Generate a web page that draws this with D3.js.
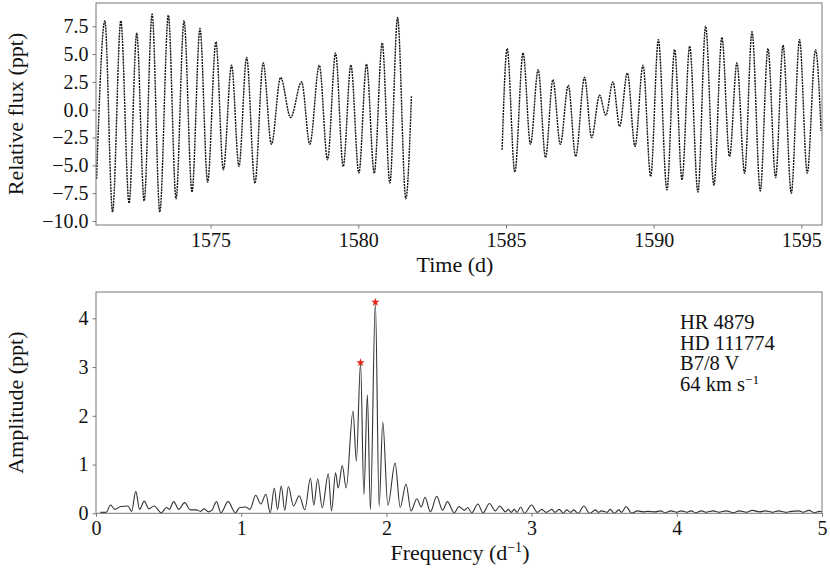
<!DOCTYPE html>
<html>
<head>
<meta charset="utf-8">
<script src="https://cdn.jsdelivr.net/npm/d3@7"></script>
<style>
body { margin: 0; background: #fff; }
text { font-family: "Liberation Serif", "DejaVu Serif", serif; fill: #111; }
</style>
</head>
<body>
<div id="chart"></div>
<script>
// light curve extrema (BJD - 2457000, ppt)
var lcTime1 = [1571.14, 1571.42, 1571.68, 1571.96, 1572.24, 1572.50, 1572.75, 1573.02, 1573.28, 1573.57,
               1573.83, 1574.10, 1574.37, 1574.64, 1574.90, 1575.18, 1575.43, 1575.71, 1575.96, 1576.22,
               1576.50, 1576.78, 1577.06, 1577.37, 1577.71, 1578.08, 1578.36, 1578.68, 1578.96, 1579.23,
               1579.49, 1579.75, 1580.02, 1580.28, 1580.54, 1580.81, 1581.07, 1581.33, 1581.61, 1581.80];
var lcFlux1 = [-6.2, 8.0, -9.2, 8.0, -8.4, 6.9, -8.2, 8.6, -9.2, 8.5,
               -8.0, 8.0, -7.4, 7.3, -6.5, 6.1, -5.4, 4.0, -5.1, 4.7,
               -6.6, 4.2, -3.1, 2.9, -0.7, 2.5, -3.1, 4.0, -4.5, 5.1,
               -5.1, 4.0, -5.7, 4.1, -5.7, 6.0, -6.6, 8.3, -8.0, 1.2];
var lcTime2 = [1584.87, 1585.04, 1585.30, 1585.58, 1585.83, 1586.09, 1586.34, 1586.59, 1586.84, 1587.11,
               1587.36, 1587.66, 1587.90, 1588.17, 1588.38, 1588.62, 1588.85, 1589.11, 1589.37, 1589.64,
               1589.90, 1590.16, 1590.45, 1590.71, 1590.96, 1591.22, 1591.50, 1591.76, 1592.04, 1592.31,
               1592.57, 1592.82, 1593.08, 1593.33, 1593.61, 1593.87, 1594.13, 1594.38, 1594.66, 1594.94,
               1595.20, 1595.48, 1595.67];
var lcFlux2 = [-3.6, 5.5, -5.6, 5.1, -3.1, 3.6, -4.3, 2.7, -3.1, 2.2,
               -4.2, 2.9, -2.5, 1.3, -0.5, 2.5, -1.5, 3.3, -3.3, 4.0,
               -6.0, 6.3, -7.2, 5.4, -6.3, 5.7, -7.4, 7.5, -6.8, 6.5,
               -4.2, 4.2, -5.7, 7.0, -7.3, 5.5, -6.1, 5.8, -7.5, 6.3,
               -5.7, 5.4, -1.9];

// amplitude spectrum, peaks and dips
var pgFreq = [0.03, 0.07, 0.10, 0.13, 0.17, 0.22, 0.245, 0.274, 0.30, 0.332, 0.365, 0.40, 0.45, 0.485, 0.505,
              0.535, 0.57, 0.61, 0.65, 0.69, 0.72, 0.745, 0.775, 0.80, 0.83, 0.86, 0.91, 0.96, 0.99, 1.03,
              1.06, 1.10, 1.135, 1.17, 1.20, 1.228, 1.25, 1.276, 1.30, 1.325, 1.36, 1.40, 1.438, 1.477, 1.50,
              1.527, 1.558, 1.60, 1.622, 1.65, 1.668, 1.696, 1.723, 1.77, 1.793, 1.822, 1.845, 1.869, 1.89, 1.924,
              1.95, 1.975, 2.01, 2.06, 2.095, 2.135, 2.17, 2.21, 2.24, 2.266, 2.303, 2.347, 2.387, 2.42, 2.467,
              2.50, 2.536, 2.56, 2.587, 2.63, 2.665, 2.71, 2.75, 2.78, 2.82, 2.84, 2.86, 2.88, 2.90, 2.925,
              2.95, 3.00, 3.04, 3.07, 3.10, 3.14, 3.16, 3.19, 3.22, 3.24, 3.27, 3.29, 3.32, 3.36, 3.40,
              3.44, 3.46, 3.48, 3.52, 3.54, 3.57, 3.60, 3.62, 3.65, 3.69, 3.73, 3.77, 3.80, 3.85, 3.89,
              3.92, 3.96, 4.00, 4.03, 4.07, 4.10, 4.13, 4.17, 4.20, 4.25, 4.29, 4.34, 4.39, 4.43, 4.48,
              4.52, 4.57, 4.61, 4.66, 4.70, 4.75, 4.79, 4.84, 4.87, 4.91, 4.95, 4.98, 5.00];
var pgAmp = [0.02, 0.02, 0.17, 0.08, 0.14, 0.15, 0.04, 0.45, 0.08, 0.25, 0.09, 0.15, 0.01, 0.12, 0.08,
             0.24, 0.08, 0.22, 0.07, 0.07, 0.04, 0.09, 0.03, 0.07, 0.24, 0.01, 0.24, 0.01, 0.12, 0.13,
             0.08, 0.37, 0.19, 0.39, 0.01, 0.52, 0.08, 0.56, 0.06, 0.55, 0.15, 0.36, 0.07, 0.72, 0.17,
             0.71, 0.11, 0.81, 0.05, 0.83, 0.52, 0.98, 0.52, 2.10, 1.07, 3.09, 0.38, 2.43, 0.08, 4.33,
             0.14, 1.87, 0.16, 1.03, 0.12, 0.60, 0.05, 0.30, 0.13, 0.33, 0.03, 0.35, 0.06, 0.24, 0.01,
             0.14, 0.06, 0.12, 0.01, 0.19, 0.01, 0.20, 0.05, 0.15, 0.03, 0.08, 0.02, 0.08, 0.02, 0.13,
             0.00, 0.17, 0.02, 0.08, 0.02, 0.08, 0.02, 0.08, 0.00, 0.07, 0.02, 0.07, 0.00, 0.15, 0.00,
             0.07, 0.02, 0.05, 0.02, 0.08, 0.00, 0.07, 0.02, 0.14, 0.00, 0.05, 0.03, 0.04, 0.03, 0.05,
             0.01, 0.05, 0.02, 0.05, 0.02, 0.05, 0.01, 0.05, 0.02, 0.05, 0.02, 0.05, 0.01, 0.05, 0.02,
             0.06, 0.03, 0.05, 0.02, 0.05, 0.02, 0.04, 0.05, 0.02, 0.06, 0.01, 0.04, 0.03];

// marked frequencies
var peakFreq = [1.822, 1.924];
var peakAmp = [3.09, 4.33];

var timeTicks = [1575, 1580, 1585, 1590, 1595];
var fluxTicks = [-10, -7.5, -5, -2.5, 0, 2.5, 5, 7.5];
var freqTicks = [0, 1, 2, 3, 4, 5];
var ampTicks = [0, 1, 2, 3, 4];
var starInfo = ["HR 4879", "HD 111774", "B7/8 V", "64 km s"];

var W = 830, H = 570;
var left = 96, right = 822;
var top1 = 3, bot1 = 225;
var top2 = 292, bot2 = 513.3;
var fs = 20, lfs = 22;

var svg = d3.select("#chart").append("svg")
    .attr("width", W)
    .attr("height", H);

function fmtMinus(s){ return s.replace("-", "\u2212"); }

// ---------- top panel: light curve ----------
var xT = d3.scaleLinear().domain([1571.12, 1595.70]).range([left, right]);
var yF = d3.scaleLinear().domain([-10.36, 9.59]).range([bot1, top1]);

var seg1 = lcTime1.map(function(t, i){ return [t, lcFlux1[i]]; });
var seg2 = lcTime2.map(function(t, i){ return [t, lcFlux2[i]]; });

var lcLine = d3.line()
    .x(function(d){ return xT(d[0]); })
    .y(function(d){ return yF(d[1]); })
    .curve(d3.curveMonotoneX);

svg.selectAll(".lc")
    .data([seg1, seg2])
    .enter()
    .append("path")
    .attr("class", "lc")
    .attr("d", lcLine)
    .attr("fill", "none")
    .attr("stroke", "#111")
    .attr("stroke-width", 1.4)
    .attr("stroke-dasharray", "2,0.9");

var gx1 = svg.append("g")
    .attr("transform", "translate(0," + bot1 + ")")
    .call(d3.axisBottom(xT).tickValues(timeTicks).tickSize(3.5).tickPadding(4).tickFormat(d3.format("d")));
var gy1 = svg.append("g")
    .attr("transform", "translate(" + left + ",0)")
    .call(d3.axisLeft(yF).tickValues(fluxTicks).tickSize(3.5).tickPadding(4)
          .tickFormat(function(d){ return fmtMinus(d3.format(".1f")(d)); }));

svg.append("rect")
    .attr("x", left).attr("y", top1)
    .attr("width", right - left).attr("height", bot1 - top1)
    .attr("fill", "none").attr("stroke", "#777").attr("stroke-width", 1);

svg.append("text")
    .attr("x", (left + right) / 2 - 4).attr("y", 272)
    .attr("text-anchor", "middle")
    .style("font-size", lfs + "px")
    .text("Time (d)");

svg.append("text")
    .attr("transform", "translate(23," + ((top1 + bot1) / 2) + ") rotate(-90)")
    .attr("text-anchor", "middle")
    .style("font-size", lfs + "px")
    .text("Relative flux (ppt)");

// ---------- bottom panel: amplitude spectrum ----------
var xF = d3.scaleLinear().domain([0, 5]).range([left, right]);
var yA = d3.scaleLinear().domain([0, 4.54]).range([bot2, top2]);

var pg = pgFreq.map(function(f, i){ return [f, pgAmp[i]]; });

var pgLine = d3.line()
    .x(function(d){ return xF(d[0]); })
    .y(function(d){ return yA(d[1]); })
    .curve(d3.curveMonotoneX);

svg.append("path")
    .datum(pg)
    .attr("d", pgLine)
    .attr("fill", "none")
    .attr("stroke", "#333")
    .attr("stroke-width", 1.1);

svg.selectAll(".pk")
    .data(peakFreq)
    .enter()
    .append("path")
    .attr("class", "pk")
    .attr("transform", function(d, i){ return "translate(" + xF(d) + "," + yA(peakAmp[i]) + ")"; })
    .attr("d", d3.symbol().type(d3.symbolStar).size(22))
    .attr("fill", "#e8251a");

var gx2 = svg.append("g")
    .attr("transform", "translate(0," + bot2 + ")")
    .call(d3.axisBottom(xF).tickValues(freqTicks).tickSize(3.5).tickPadding(4).tickFormat(d3.format("d")));
var gy2 = svg.append("g")
    .attr("transform", "translate(" + left + ",0)")
    .call(d3.axisLeft(yA).tickValues(ampTicks).tickSize(3.5).tickPadding(4).tickFormat(d3.format("d")));

svg.append("rect")
    .attr("x", left).attr("y", top2)
    .attr("width", right - left).attr("height", bot2 - top2)
    .attr("fill", "none").attr("stroke", "#777").attr("stroke-width", 1);

var xlab = svg.append("text")
    .attr("x", (left + right) / 2 + 1).attr("y", 560)
    .attr("text-anchor", "middle")
    .style("font-size", lfs + "px")
    .text("Frequency (d");
xlab.append("tspan").attr("dy", -8).style("font-size", "14px").text("\u22121");
xlab.append("tspan").attr("dy", 8).text(")");

svg.append("text")
    .attr("transform", "translate(23," + ((top2 + bot2) / 2) + ") rotate(-90)")
    .attr("text-anchor", "middle")
    .style("font-size", lfs + "px")
    .text("Amplitude (ppt)");

var info = svg.selectAll(".info")
    .data(starInfo)
    .enter()
    .append("text")
    .attr("class", "info")
    .attr("x", 680)
    .attr("y", function(d, i){ return 329 + i * 20.5; })
    .style("font-size", "20.5px")
    .text(function(d){ return d; });
info.filter(function(d, i){ return i == 3; })
    .append("tspan").attr("dy", -7).style("font-size", "13.5px").text("\u22121");

// axis styling
svg.selectAll(".domain").remove();
svg.selectAll(".tick line").attr("stroke", "#777");
svg.selectAll(".tick text")
    .style("font-size", fs + "px")
    .style("font-family", "'Liberation Serif', 'DejaVu Serif', serif")
    .attr("fill", "#111");
</script>
</body>
</html>
